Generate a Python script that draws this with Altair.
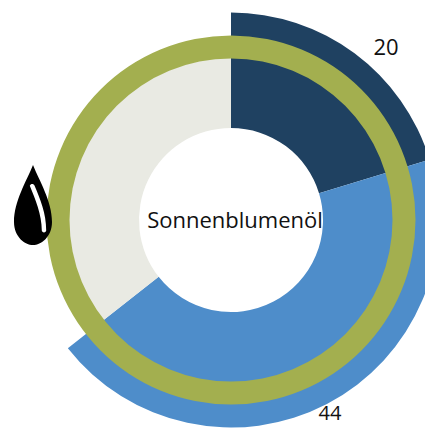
import altair as alt
import pandas as pd

categories = ["A", "B", "C"]
values = [20.3, 44.1, 35.6]
colors = ["#1F4161", "#4E8DCA", "#E9EAE3"]
labels = ["20", "44"]
title = "Sonnenblumenöl"

CX, CY = 223, 212
W, H = 417, 420

starts, ends, t = [], [], 0
for v in values:
    starts.append(t)
    t += v
    ends.append(t)

df = pd.DataFrame({"cat": categories, "start": starts, "end": ends})
theta_scale = alt.Scale(domain=[0, 100], range=[0, 6.283185307])
base = alt.Chart(df)


def slices(flt, inner, outer):
    return base.transform_filter(flt).mark_arc(
        x=CX, y=CY, radius=outer, radius2=inner, stroke=None
    ).encode(
        theta=alt.Theta("start:Q", scale=theta_scale),
        theta2="end:Q",
        color=alt.Color("cat:N", scale=alt.Scale(domain=categories, range=colors), legend=None),
    )


arc_outer = slices("datum.cat != 'C'", 92, 207.5)
arc_inner = slices("datum.cat == 'C'", 92, 162)

ring_df = pd.DataFrame({"s": [0], "e": [100]})
ring = alt.Chart(ring_df).mark_arc(
    x=CX, y=CY, radius=184.5, radius2=161.5, color="#A3AF4F"
).encode(theta=alt.Theta("s:Q", scale=theta_scale), theta2="e:Q")

FONT = "Open Sans"
center = alt.Chart(pd.DataFrame({"t": [title]})).mark_text(
    x=CX + 4, y=CY + 1, font=FONT, fontSize=22, color="#111111", align="center", baseline="middle"
).encode(text="t:N")

lab1 = alt.Chart(pd.DataFrame({"t": [labels[0]]})).mark_text(
    x=378, y=40, font=FONT, fontSize=22, color="#111111", align="center", baseline="middle"
).encode(text="t:N")
lab2 = alt.Chart(pd.DataFrame({"t": [labels[1]]})).mark_text(
    x=322, y=406, font=FONT, fontSize=20, color="#111111", align="center", baseline="middle"
).encode(text="t:N")

DROP = ("M0,-0.5 C-0.08,-0.3 -0.2375,-0.05 -0.2375,0.2125 C-0.2375,0.4 -0.1,0.5 0,0.5 "
        "C0.1,0.5 0.2375,0.4 0.2375,0.2125 C0.2375,-0.05 0.08,-0.3 0,-0.5 Z")
SHINE = ("M-0.04,-0.24 C-0.03,-0.27 0.01,-0.27 0.02,-0.24 C0.09,-0.07 0.165,0.1 0.165,0.32 "
         "C0.165,0.35 0.11,0.35 0.11,0.32 C0.11,0.12 0.03,-0.07 -0.04,-0.24 Z")
pt = pd.DataFrame({"k": ["drop"]})
drop = alt.Chart(pt).mark_point(
    x=25, y=197, shape=DROP, size=25600, filled=True, color="#000000", opacity=1
).encode(detail="k:N")
shine = alt.Chart(pt).mark_point(
    x=25, y=197, shape=SHINE, size=25600, filled=True, color="#FFFFFF", opacity=1
).encode(detail="k:N")

chart = alt.layer(arc_outer, arc_inner, ring, center, lab1, lab2, drop, shine).properties(
    width=W, height=H,
    autosize=alt.AutoSizeParams(type="none"),
    padding=0,
).configure_view(stroke=None)

chart.save("out.html", embed_options={"renderer": "svg", "actions": False})
